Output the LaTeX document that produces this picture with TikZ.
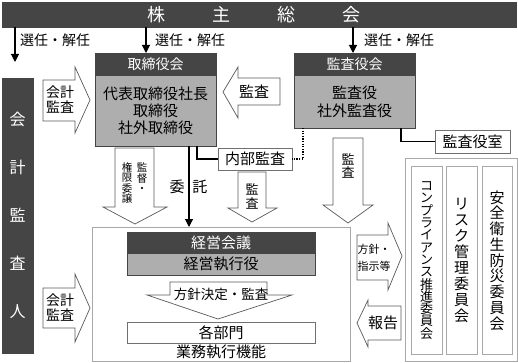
\documentclass[tikz,border=0pt]{standalone}
\usepackage{fontspec}
\setmainfont{Noto Sans CJK JP}
\usetikzlibrary{arrows.meta}
\definecolor{dk}{HTML}{454545}
\definecolor{md}{HTML}{AEAEAE}
\definecolor{ol}{HTML}{5A5A5A}
\definecolor{bx}{HTML}{707070}
\definecolor{lt}{HTML}{A8A8A8}
\begin{document}
\begin{tikzpicture}[x=1pt,y=-1pt,
  hdr/.style={anchor=north west, inner sep=0pt, outer sep=0pt, fill=dk, draw=dk, text=white, font=\fontsize{14}{14}\selectfont},
  bodybox/.style={anchor=north west, inner sep=0pt, outer sep=0pt, fill=md, draw=dk, line width=0.8pt, align=center, font=\fontsize{15}{17}\selectfont},
  wbox/.style={anchor=north west, inner sep=0pt, outer sep=0pt, fill=white, draw=bx, line width=0.8pt, font=\fontsize{15}{15}\selectfont},
  frame/.style={anchor=north west, inner sep=0pt, outer sep=0pt, draw=lt, line width=1pt},
  blk/.style={draw=ol, fill=white, line width=0.7pt, line join=miter},
  conn/.style={line width=1.1pt, -{Triangle[width=8pt,length=8pt]}},
  cline/.style={line width=1.1pt},
  lbl/.style={inner sep=0pt, font=\fontsize{14}{14}\selectfont},
  vt/.style 2 args={align=center, inner sep=0pt, font={\fontsize{#1}{#2}\selectfont\lineskiplimit=-\maxdimen}}]
\useasboundingbox (0,0) rectangle (518,363);

% top bar
\node[hdr, minimum width=514, minimum height=25, font=\fontsize{18}{18}\selectfont] (bar) at (2,2) {株\hspace{47pt}主\hspace{47pt}総\hspace{47pt}会\hspace*{10pt}};

\coordinate (e1) at (15,62);
\draw[conn] (bar.south -| e1) -- (e1);
\node[lbl, anchor=west] (l1) at (20,40) {選任・解任};

% board of directors
\node[hdr, minimum width=121, minimum height=22] (torih) at (95,53) {取締役会};
\node[bodybox, minimum width=121, minimum height=71] (torib) at (95,75) {代表取締役社長\\取締役\\社外取締役};
\coordinate (x2) at (146,0);
\draw[conn] (bar.south -| x2) -- (torih.north -| x2);
\node[lbl, anchor=west] (l2) at (155,40) {選任・解任};

% audit board
\node[hdr, minimum width=121, minimum height=22] (kansah) at (294,53) {監査役会};
\node[bodybox, minimum width=121, minimum height=53, font=\fontsize{15}{18}\selectfont] (kansab) at (294,75) {監査役\\社外監査役};
\coordinate (x3) at (353,0);
\draw[conn] (bar.south -| x3) -- (kansah.north -| x3);
\node[lbl, anchor=west] (l3) at (364,40) {選任・解任};

% accounting auditor
\node[hdr, minimum width=31, minimum height=275, align=center, font={\fontsize{16}{48}\selectfont}] (kaikei) at (2,78) {会\\計\\監\\査\\人};

% internal audit
\node[wbox, minimum width=74, minimum height=22] (naibu) at (218,148) {内部監査};
\coordinate (c1) at (197,0);
\draw[cline] (torib.south -| c1) |- (naibu.west);
\coordinate (c2) at (303,0);
\draw[line width=1.1pt, dash pattern=on 1.2pt off 1.4pt] (kansab.south -| c2) |- (naibu.east);

% audit office
\node[wbox, minimum width=75, minimum height=23] (shitsu) at (435,130) {監査役室};
\coordinate (c3) at (401,0);
\draw[cline] (kansab.south -| c3) |- (shitsu.west);

% business execution frame
\node[frame, minimum width=258, minimum height=134] (gyomu) at (92,227) {};
\coordinate (c4) at (189,0);
\draw[conn] (torib.south -| c4) -- (gyomu.north -| c4);
\node[lbl, font=\fontsize{15}{15}\selectfont] (itaku) at (188.5,187) {委\hspace{8pt}託};

\node[hdr, minimum width=188, minimum height=21, font=\fontsize{15}{15}\selectfont] (keiei) at (127,232) {経営会議};
\node[bodybox, minimum width=188, minimum height=22] (shikko) at (127,253) {経営執行役};
\node[wbox, minimum width=188, minimum height=21] (kakubu) at (127,322) {各部門};
\node[lbl, font=\fontsize{15}{15}\selectfont] (gyomulbl) at (221,352) {業務執行機能};

% chevron
\draw[blk] (170,282) -- (267,282) -- (267,295) -- (292,295) -- (218,319) -- (147,295) -- (170,295) -- cycle;
\node[lbl, font=\fontsize{13.5}{13.5}\selectfont] (hoshin) at (221,294) {方針決定・監査};

% committees
\node[frame] (iinkai) at (405,159) [minimum width=112, minimum height=202] {};
\node[frame, minimum width=31, minimum height=187, vt={13}{12.3}] (col1) at (411,167) {コ\\ン\\プ\\ラ\\イ\\ア\\ン\\ス\\推\\進\\委\\員\\会};
\node[frame, minimum width=31, minimum height=187, vt={15}{16}] (col2) at (446,167) {リ\\ス\\ク\\管\\理\\委\\員\\会};
\node[frame, minimum width=30, minimum height=187, vt={15}{15.75}] (col3) at (482,167) {安\\全\\衛\\生\\防\\災\\委\\員\\会};

% block arrows: accounting audit (upper / lower)
\draw[blk] (43,80) -- (75,80) -- (75,67) -- (90,100) -- (75,133) -- (75,121) -- (43,121) -- cycle;
\node[vt={14}{15}] (ka1) at (60,100) {会計\\監査};
\draw[blk] (43,288) -- (75,288) -- (75,274) -- (90,308) -- (75,342) -- (75,328) -- (43,328) -- cycle;
\node[vt={14}{15}] (ka2) at (60,308) {会計\\監査};

% audit arrow pointing left
\draw[blk] (223,92) -- (238,67) -- (238,78) -- (280,78) -- (280,105) -- (238,105) -- (238,118) -- cycle;
\node[lbl, font=\fontsize{15}{15}\selectfont] (kl) at (254,92) {監査};

% down arrows
\draw[blk] (115,148) -- (154,148) -- (154,207) -- (167,207) -- (135,224) -- (103,207) -- (115,207) -- cycle;
\node[vt={10.5}{10.5}] (va1) at (142,178) {監\\督\\・};
\node[vt={10.5}{10.5}] (va2) at (127,183) {権\\限\\委\\譲};

\draw[blk] (238,172) -- (266,172) -- (266,208) -- (277,208) -- (252,222) -- (228,208) -- (238,208) -- cycle;
\node[vt={13}{14}] (vb) at (252,196.5) {監\\査};

\draw[blk] (333,138) -- (363,138) -- (363,205) -- (373,205) -- (348,223) -- (323,205) -- (333,205) -- cycle;
\node[vt={13}{13}] (vc) at (348,166) {監\\査};

% policy arrow right
\draw[blk] (357,235) -- (388,235) -- (388,223) -- (402,256) -- (388,290) -- (388,280) -- (357,280) -- cycle;
\node[vt={11}{17}] (hs) at (374,258) {方針・\\指示等};

% report arrow left
\draw[blk] (357,323) -- (368,300) -- (368,306) -- (401,306) -- (401,340) -- (368,340) -- (368,347) -- cycle;
\node[lbl, font=\fontsize{15}{15}\selectfont] (hk) at (383,323) {報告};
\end{tikzpicture}
\end{document}
